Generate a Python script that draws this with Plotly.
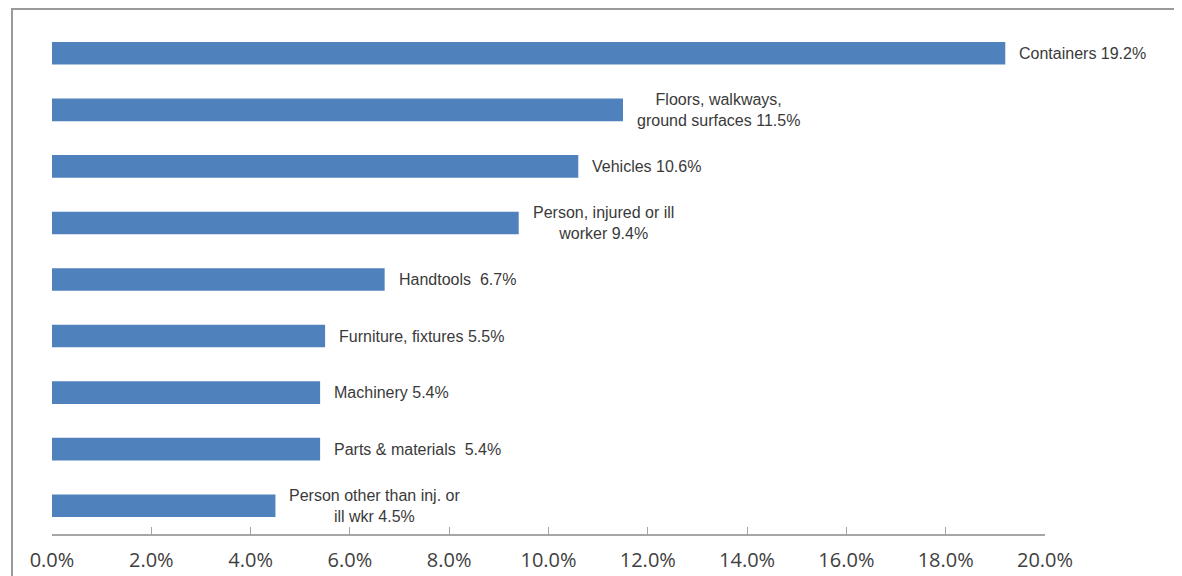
import plotly.graph_objects as go

categories = [
    "Containers",
    "Floors, walkways, ground surfaces",
    "Vehicles",
    "Person, injured or ill worker",
    "Handtools",
    "Furniture, fixtures",
    "Machinery",
    "Parts & materials",
    "Person other than inj. or ill wkr",
]

values = [19.2, 11.5, 10.6, 9.4, 6.7, 5.5, 5.4, 5.4, 4.5]

labels = [
    "Containers 19.2%",
    "Floors, walkways,<br>ground surfaces 11.5%",
    "Vehicles 10.6%",
    "Person, injured or ill<br>worker 9.4%",
    "Handtools  6.7%",
    "Furniture, fixtures 5.5%",
    "Machinery 5.4%",
    "Parts & materials  5.4%",
    "Person other than inj. or<br>ill wkr 4.5%",
]

tick_vals = [0, 2, 4, 6, 8, 10, 12, 14, 16, 18, 20]
tick_text = ["%.1f%%" % v for v in tick_vals]

fig = go.Figure()

fig.add_trace(
    go.Bar(
        x=values,
        y=categories,
        orientation="h",
        width=0.4,
        marker=dict(color="#4F81BD", line=dict(width=0)),
        hoverinfo="x+y",
    )
)

for cat, val, lab in zip(categories, values, labels):
    fig.add_annotation(
        x=val,
        y=cat,
        text=lab,
        showarrow=False,
        xanchor="left",
        xshift=12,
        align="center",
        font=dict(family="Liberation Sans, Arial", size=16, color="#3a3a3a"),
    )

# page body has an 8px margin, so the figure is a bit smaller
fig.add_shape(
    type="rect",
    xref="paper",
    yref="paper",
    x0=-0.0403,
    x1=1.3,
    y0=-0.3,
    y1=1.0314,
    line=dict(color="#9a9a9a", width=2),
    fillcolor="rgba(0,0,0,0)",
    layer="below",
)

fig.update_layout(
    width=1174,
    height=568,
    margin=dict(l=44, r=137, t=17, b=42),
    plot_bgcolor="white",
    paper_bgcolor="white",
    showlegend=False,
)

fig.update_xaxes(
    range=[0, 20],
    tickvals=tick_vals,
    ticktext=tick_text,
    showgrid=False,
    zeroline=False,
    showline=True,
    linecolor="#a6a6a6",
    linewidth=2,
    ticks="inside",
    ticklen=7,
    tickcolor="#a6a6a6",
    tickwidth=1,
    ticklabelstandoff=7,
    automargin=False,
    tickfont=dict(family="Open Sans, Calibri", size=20, color="#404040"),
)

fig.update_yaxes(
    categoryorder="array",
    categoryarray=categories[::-1],
    showticklabels=False,
    showgrid=False,
    zeroline=False,
    showline=False,
    automargin=False,
    range=[-0.5, len(categories) - 0.5],
)

fig.write_html("out.html")
